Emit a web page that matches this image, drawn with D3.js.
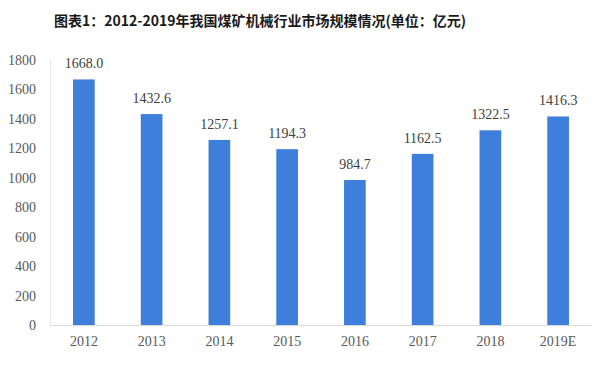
<!DOCTYPE html>
<html><head><meta charset="utf-8">
<script src="https://cdn.jsdelivr.net/npm/d3@7/dist/d3.min.js"></script>
<style>body{margin:0;background:#fff}</style>
</head><body>
<svg id="c" width="600" height="368"></svg>
<script>
const categories = ["2012","2013","2014","2015","2016","2017","2018","2019E"];
const values = [1668.0,1432.6,1257.1,1194.3,984.7,1162.5,1322.5,1416.3];
const yTicks = [0,200,400,600,800,1000,1200,1400,1600,1800];
const title = "图表1：2012-2019年我国煤矿机械行业市场规模情况(单位：亿元)";

(function(){
const svg = d3.select("#c");
const mL = 50, mR = 592, mT = 60, mB = 325;
const x = d3.scaleBand().domain(categories).range([mL, mR]).paddingInner(0.68).paddingOuter(0.34);
const y = d3.scaleLinear().domain([0,1800]).range([mB, mT]);

svg.append("text").attr("x", 260).attr("y", 26).attr("text-anchor","middle")
  .attr("font-family","'Noto Sans CJK SC', sans-serif").attr("font-weight","bold")
  .attr("font-size", 14).attr("fill","#1a1a1a").text(title);

svg.append("line").attr("x1", mL+0.5).attr("x2", mL+0.5).attr("y1", mT).attr("y2", mB)
  .attr("stroke","#e6e6e6");
const yAxis = d3.axisLeft(y).tickValues(yTicks).tickSize(0).tickPadding(14).tickFormat(d3.format("d"));
const ya = svg.append("g").attr("transform",`translate(${mL},0)`).call(yAxis);
ya.select(".domain").remove();
ya.selectAll("text").attr("font-family","'Liberation Serif', serif").attr("font-size",14).attr("fill","#595959");

const xAxis = d3.axisBottom(x).tickSize(0).tickPadding(11);
const xa = svg.append("g").attr("transform",`translate(0,${mB})`).call(xAxis);
xa.select(".domain").attr("stroke","#d9d9d9");
xa.selectAll("text").attr("font-family","'Liberation Serif', serif").attr("font-size",14).attr("fill","#595959");

svg.selectAll("rect.bar").data(values).join("rect").attr("class","bar")
  .attr("x",(d,i)=>x(categories[i])).attr("width",x.bandwidth())
  .attr("y",d=>y(d)).attr("height",d=>mB-y(d)).attr("fill","#3e7fdb");

svg.selectAll("text.lbl").data(values).join("text").attr("class","lbl")
  .attr("x",(d,i)=>x(categories[i])+x.bandwidth()/2).attr("y",d=>y(d)-11)
  .attr("text-anchor","middle").attr("font-family","'Liberation Serif', serif")
  .attr("font-size",14).attr("fill","#404040").text(d=>d.toFixed(1));
})();
</script>
</body></html>
